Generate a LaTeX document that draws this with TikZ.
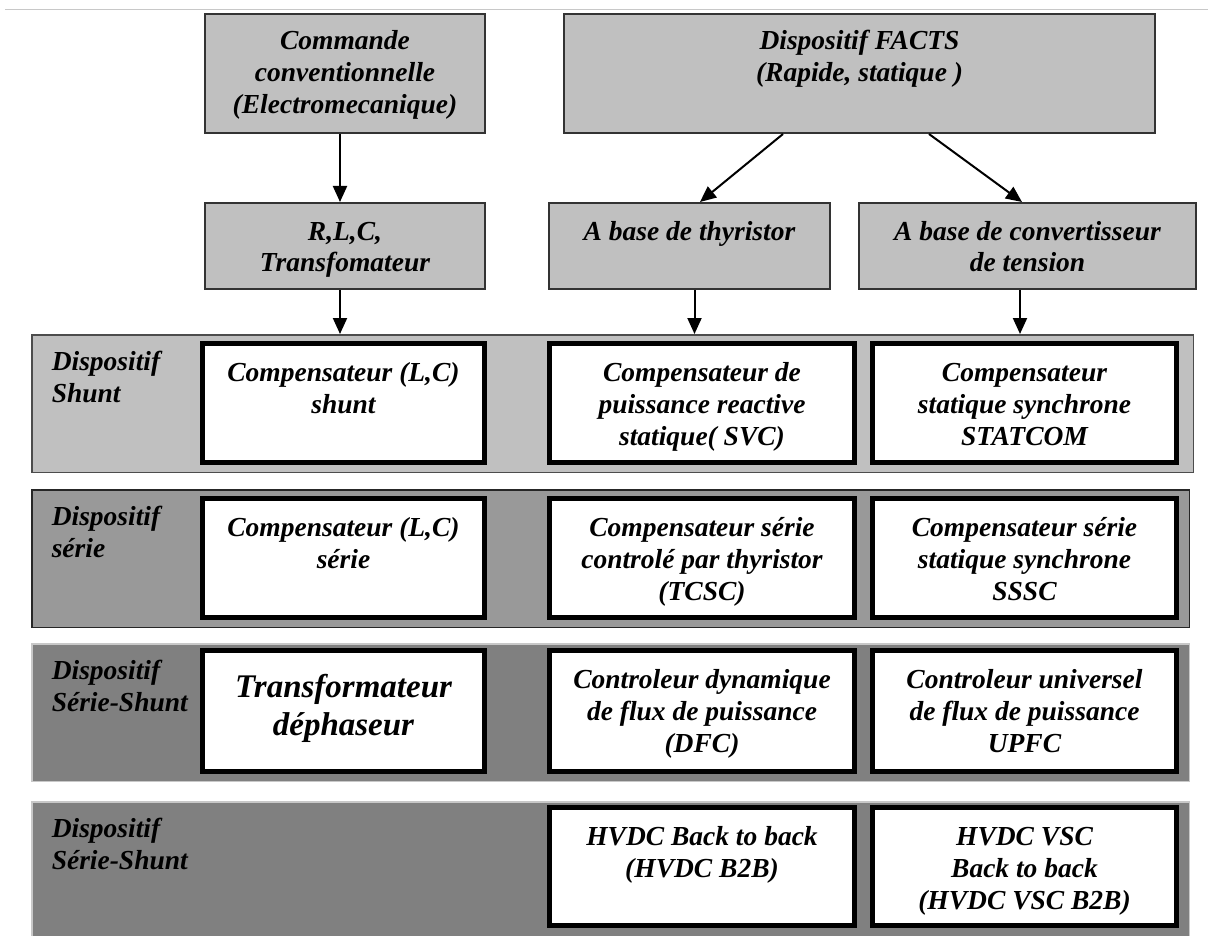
\documentclass[tikz,border=0pt]{standalone}
\usepackage{fontspec}
\setmainfont{Liberation Serif}
\usetikzlibrary{arrows.meta}
\definecolor{topgray}{HTML}{C0C0C0}
\definecolor{topline}{HTML}{333333}
\definecolor{bandone}{HTML}{C0C0C0}
\definecolor{bandtwo}{HTML}{999999}
\definecolor{bandthree}{HTML}{808080}
\definecolor{rulegray}{HTML}{C8C8C8}
\newcommand\cellbody[4]{\begin{minipage}[c][#2pt][t]{#1pt}\centering\vspace*{#3pt}\strut#4\end{minipage}}
\newcommand\bandbody[3]{\begin{minipage}[c][#2pt][t]{#1pt}\raggedright\leftskip=20pt\vspace*{13.3pt}\strut#3\end{minipage}}
\tikzset{
  topbox/.style={draw=topline, line width=2pt, fill=topgray, inner sep=0pt},
  band/.style={inner sep=0pt, line width=1.5pt},
  wbox/.style={draw=black, line width=5pt, fill=white, inner sep=0pt},
  arr/.style={-{Triangle[length=16pt,width=14pt]}, line width=2pt, draw=black},
}
\begin{document}
\begin{tikzpicture}[x=1pt,y=-1pt,font=\fontsize{27.5}{32}\selectfont\bfseries\itshape]
\useasboundingbox (0,0) rectangle (1208,936);
\coordinate (la) at (5,9.5);
\coordinate (lb) at (1208,9.5);
\draw[rulegray, line width=1pt] (la) -- (lb);

% top boxes
\node[topbox] (cc) at (345,73.5) {\cellbody{280}{119}{13.6}{Commande\\conventionnelle\\(Electromecanique)}};
\node[topbox] (facts) at (859.5,73.5) {\cellbody{591}{119}{13.6}{Dispositif FACTS\\(Rapide, statique )}};
\node[topbox] (rlc) at (345,246) {\cellbody{280}{86}{14.6}{R,L,C,\\Transfomateur}};
\node[topbox] (thy) at (689.5,246) {\cellbody{281}{86}{14.6}{A base de thyristor}};
\node[topbox] (conv) at (1027.5,246) {\cellbody{337}{86}{14.6}{A base de convertisseur\\de tension}};

% bands
\node[band, draw=black!70, fill=bandone] (b1) at (612.5,403.5) {\bandbody{1161.5}{137.5}{Dispositif\\Shunt}};
\node[band, draw=black!85, fill=bandtwo] (b2) at (610.5,558.5) {\bandbody{1157.5}{137.5}{Dispositif\\série}};
\node[band, draw=rulegray, fill=bandthree] (b3) at (610.5,712.5) {\bandbody{1157.5}{137.5}{Dispositif\\Série-Shunt}};
\node[band, draw=rulegray, fill=bandthree] (b4) at (610.5,871) {\bandbody{1157.5}{138.5}{Dispositif\\Série-Shunt}};

% inner boxes
\node[wbox] (s1) at (343.5,403) {\cellbody{282}{119}{16}{Compensateur (L,C)\\shunt}};
\node[wbox] (s2) at (702,403) {\cellbody{305}{119}{16}{Compensateur de\\puissance reactive\\statique( SVC)}};
\node[wbox] (s3) at (1024.5,403) {\cellbody{304}{119}{16}{Compensateur\\statique synchrone\\STATCOM}};

\node[wbox] (r1) at (343.5,558) {\cellbody{282}{119}{16}{Compensateur (L,C)\\série}};
\node[wbox] (r2) at (702,558) {\cellbody{305}{119}{16}{Compensateur série\\controlé par thyristor\\(TCSC)}};
\node[wbox] (r3) at (1024.5,558) {\cellbody{304}{119}{16}{Compensateur série\\statique synchrone\\SSSC}};

\node[wbox, font=\fontsize{33}{38}\selectfont\bfseries\itshape] (m1) at (343.5,711) {\cellbody{282}{121}{20}{Transformateur\\déphaseur}};
\node[wbox] (m2) at (702,711) {\cellbody{305}{121}{16}{Controleur dynamique\\de flux de puissance\\(DFC)}};
\node[wbox] (m3) at (1024.5,711) {\cellbody{304}{121}{16}{Controleur universel\\de flux de puissance\\UPFC}};

\node[wbox] (h2) at (702,866.5) {\cellbody{305}{118}{16}{HVDC Back to back\\(HVDC B2B)}};
\node[wbox] (h3) at (1024.5,866.5) {\cellbody{304}{118}{16}{HVDC VSC\\Back to back\\(HVDC VSC B2B)}};

% arrows
\draw[arr] ([xshift=-5pt]cc.south) -- ([xshift=-5pt]rlc.north);
\draw[arr] ([xshift=-76.5pt]facts.south) -- ([xshift=10.5pt]thy.north);
\draw[arr] ([xshift=69.5pt]facts.south) -- ([xshift=-5.5pt]conv.north);
\draw[arr] ([xshift=-5pt]rlc.south) -- ([xshift=-5pt]rlc.south |- b1.north);
\draw[arr] ([xshift=5pt]thy.south) -- ([xshift=5pt]thy.south |- b1.north);
\draw[arr] ([xshift=-7.5pt]conv.south) -- ([xshift=-7.5pt]conv.south |- b1.north);
\end{tikzpicture}
\end{document}
